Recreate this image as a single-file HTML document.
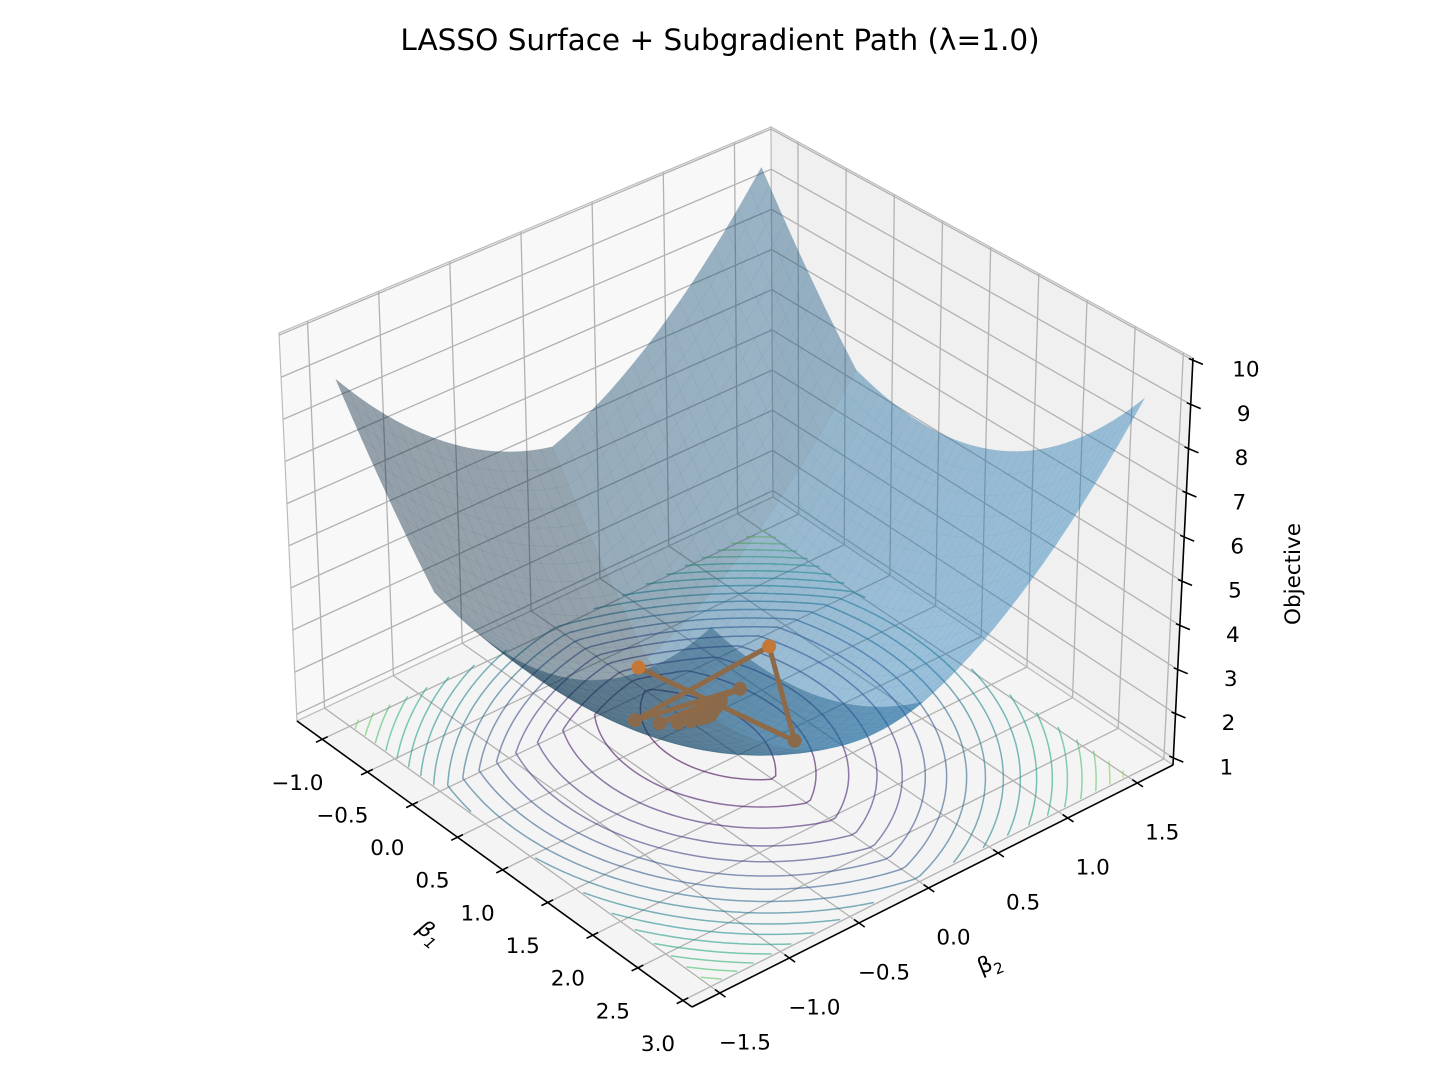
<!DOCTYPE html>
<html><head><meta charset="utf-8"><style>
html,body{margin:0;padding:0;background:#fff;}
svg{display:block;font-family:"DejaVu Sans","Liberation Sans",sans-serif;}
</style></head><body>
<svg id="chart" width="1440" height="1080" viewBox="0 0 1440 1080" xmlns="http://www.w3.org/2000/svg">
<rect width="1440" height="1080" fill="#ffffff"/>
<text x="720" y="50" text-anchor="middle" font-size="29.5" fill="#000">LASSO Surface + Subgradient Path (λ=1.0)</text>
<g id="panes"></g>
<g id="grid"></g>
<g id="contours"></g>
<g id="surface"></g>
<g id="path"></g>
<g id="axes"></g>
<text transform="translate(425,938) rotate(38)" text-anchor="middle" font-size="22" font-style="italic">β<tspan font-size="15" dy="6">1</tspan></text>
<text transform="translate(992,970) rotate(-22)" text-anchor="middle" font-size="22">β<tspan font-size="15" dy="6">2</tspan></text>
<text transform="translate(1300,574) rotate(-90)" text-anchor="middle" font-size="21.5">Objective</text>
</svg>
<script>
const xTicks=[-1,-0.5,0,0.5,1,1.5,2,2.5,3];
const xTickLabels=["−1.0","−0.5","0.0","0.5","1.0","1.5","2.0","2.5","3.0"];
const yTicks=[-1.5,-1,-0.5,0,0.5,1,1.5];
const yTickLabels=["−1.5","−1.0","−0.5","0.0","0.5","1.0","1.5"];
const zTicks=[1,2,3,4,5,6,7,8,9,10];
const zTickLabels=["1","2","3","4","5","6","7","8","9","10"];
const beta1Path=[0.06,1.53,0.64,0.71,0.70,0.72,0.66,0.72,0.67,0.71,0.68,0.70,0.69,0.70];
const beta2Path=[-0.10,0.06,0.46,-0.55,0.21,-0.38,0.10,-0.25,0.06,-0.15,0.03,-0.08,0.01,-0.03];
const quadCoef=[0.667,1.2,0,-1.933,0.25,1.627];
const lambdaVal=[1.0];
const surfXRange=[-1,3];
const surfYRange=[-1.5,1.5];

const NS="http://www.w3.org/2000/svg";
const X0=-1.28,X1=3.10,Y0=-1.70,Y1=1.757,Z0=0.84,Z1=10.05;
const C={b00:[297,721],b10:[692,1007],b11:[1173,765],b01:[773,497],
         t00:[279,333],t10:[692,582],t11:[1193,358],t01:[771,127]};
function bil(a,b,c,d,u,v){return [(1-u)*(1-v)*a[0]+u*(1-v)*b[0]+u*v*c[0]+(1-u)*v*d[0],
 (1-u)*(1-v)*a[1]+u*(1-v)*b[1]+u*v*c[1]+(1-u)*v*d[1]];}
function P(x,y,z){const u=(x-X0)/(X1-X0),v=(y-Y0)/(Y1-Y0),w=(z-Z0)/(Z1-Z0);
 const b=bil(C.b00,C.b10,C.b11,C.b01,u,v),t=bil(C.t00,C.t10,C.t11,C.t01,u,v);
 return [b[0]*(1-w)+t[0]*w,b[1]*(1-w)+t[1]*w];}
function depth(x,y,z){const u=(x-X0)/(X1-X0)-0.5,v=(y-Y0)/(Y1-Y0)-0.5,w=((z-Z0)/(Z1-Z0)-0.5)*0.75;
 return 0.433*u-0.75*v+0.5*w;}
function f(x,y){const c=quadCoef;return c[0]*x*x+c[1]*y*y+c[2]*x*y+c[3]*x+c[4]*y+c[5]+lambdaVal[0]*(Math.abs(x)+Math.abs(y));}
function pts(arr){return arr.map(p=>p[0].toFixed(1)+","+p[1].toFixed(1)).join(" ");}
function mk(tag,attrs,parent){const e=document.createElementNS(NS,tag);for(const k in attrs)e.setAttribute(k,attrs[k]);parent.appendChild(e);return e;}

const gP=document.getElementById('panes');
let e;
e=mk('polygon',{points:pts([P(X0,Y0,Z0),P(X0,Y1,Z0),P(X0,Y1,Z1),P(X0,Y0,Z1)]),fill:'#f8f8f8',stroke:'#bcbcbc','stroke-width':1.2},gP);


e=mk('polygon',{points:pts([P(X0,Y1,Z0),P(X1,Y1,Z0),P(X1,Y1,Z1),P(X0,Y1,Z1)]),fill:'#f0f0f0',stroke:'#bcbcbc','stroke-width':1.2},gP);


e=mk('polygon',{points:pts([P(X0,Y0,Z0),P(X1,Y0,Z0),P(X1,Y1,Z0),P(X0,Y1,Z0)]),fill:'#f4f4f4',stroke:'#bcbcbc','stroke-width':1.2},gP);



const gG=document.getElementById('grid');
function gl(a,b,name){const l=mk('line',{x1:a[0],y1:a[1],x2:b[0],y2:b[1],stroke:'#b2b2b2','stroke-width':1.3},gG);
 
 }
yTicks.forEach(t=>{gl(P(X0,t,Z0),P(X0,t,Z1),'grid-line-y');gl(P(X0,t,Z0),P(X1,t,Z0),'grid-line-y');});
xTicks.forEach(t=>{gl(P(t,Y1,Z0),P(t,Y1,Z1),'grid-line-x');gl(P(t,Y0,Z0),P(t,Y1,Z0),'grid-line-x');});
zTicks.forEach(t=>{gl(P(X0,Y0,t),P(X0,Y1,t),'grid-line-z');gl(P(X0,Y1,t),P(X1,Y1,t),'grid-line-z');});

const vir=[[68,1,84],[71,44,122],[59,81,139],[44,113,142],[33,144,141],[39,173,129],[92,200,99],[170,220,50],[253,231,37]];
function viridis(t){t=Math.max(0,Math.min(1,t))*8;const i=Math.min(7,Math.floor(t)),r=t-i;
 const a=vir[i],b=vir[i+1];return 'rgb('+a.map((v,k)=>Math.round(v+(b[k]-v)*r)).join(',')+')';}

const gC=document.getElementById('contours');
const NX=100,NY=75;
const gx=[],gy=[],gv=[];
for(let i=0;i<=NX;i++)gx.push(surfXRange[0]+(surfXRange[1]-surfXRange[0])*i/NX);
for(let j=0;j<=NY;j++)gy.push(surfYRange[0]+(surfYRange[1]-surfYRange[0])*j/NY);
let fmin=1e9,fmax=-1e9;
for(let i=0;i<=NX;i++){gv.push([]);for(let j=0;j<=NY;j++){const v=f(gx[i],gy[j]);gv[i].push(v);fmin=Math.min(fmin,v);fmax=Math.max(fmax,v);}}
const nLev=19;
const zc=Z0+0.05;
for(let L=0;L<nLev;L++){
 const lev=fmin+0.1+(fmax-fmin)*(L+0.5)/nLev;
 let d="";
 for(let i=0;i<NX;i++)for(let j=0;j<NY;j++){
  const x0=gx[i],x1=gx[i+1],y0=gy[j],y1=gy[j+1];
  const v=[gv[i][j],gv[i+1][j],gv[i+1][j+1],gv[i][j+1]];
  const q=[[x0,y0],[x1,y0],[x1,y1],[x0,y1]];
  const cr=[];
  for(let k=0;k<4;k++){const a=v[k],b=v[(k+1)%4];
   if((a<lev)!==(b<lev)){const t=(lev-a)/(b-a);const pa=q[k],pb=q[(k+1)%4];cr.push([pa[0]+(pb[0]-pa[0])*t,pa[1]+(pb[1]-pa[1])*t]);}}
  for(let k=0;k+1<cr.length;k+=2){const A=P(cr[k][0],cr[k][1],zc),B=P(cr[k+1][0],cr[k+1][1],zc);
   d+="M"+A[0].toFixed(1)+" "+A[1].toFixed(1)+"L"+B[0].toFixed(1)+" "+B[1].toFixed(1);}
 }
 const p=mk('path',{d:d,fill:'none',stroke:viridis(L/(nLev-1)*0.9),'stroke-width':1.5,'stroke-opacity':0.6,'stroke-linecap':'round'},gC);
 
 
}

const gS=document.getElementById('surface');
const SX=48,SY=36;const polys=[];
const Lt=[-0.667,-0.667,0.333];
for(let i=0;i<SX;i++)for(let j=0;j<SY;j++){
 const xa=surfXRange[0]+(surfXRange[1]-surfXRange[0])*i/SX,xb=surfXRange[0]+(surfXRange[1]-surfXRange[0])*(i+1)/SX;
 const ya=surfYRange[0]+(surfYRange[1]-surfYRange[0])*j/SY,yb=surfYRange[0]+(surfYRange[1]-surfYRange[0])*(j+1)/SY;
 const c=[[xa,ya],[xb,ya],[xb,yb],[xa,yb]].map(p=>[p[0],p[1],f(p[0],p[1])]);
 const a=[c[2][0]-c[0][0],c[2][1]-c[0][1],c[2][2]-c[0][2]],b=[c[3][0]-c[1][0],c[3][1]-c[1][1],c[3][2]-c[1][2]];
 let n=[a[1]*b[2]-a[2]*b[1],a[2]*b[0]-a[0]*b[2],a[0]*b[1]-a[1]*b[0]];
 const nl=Math.hypot(n[0],n[1],n[2]);n=n.map(t=>t/nl);
 const s=0.65+0.35*(n[0]*Lt[0]+n[1]*Lt[1]+n[2]*Lt[2]);
 const cx=(xa+xb)/2,cy=(ya+yb)/2,cz=(c[0][2]+c[1][2]+c[2][2]+c[3][2])/4;
 polys.push({d:depth(cx,cy,cz),p:c.map(q=>P(q[0],q[1],q[2])),s:s});
}
polys.sort((A,B)=>A.d-B.d);
polys.forEach(o=>{const col='rgb('+Math.round(31*o.s)+','+Math.round(119*o.s)+','+Math.round(180*o.s)+')';
 const pg=mk('polygon',{points:pts(o.p),fill:col,'fill-opacity':0.42,stroke:col,'stroke-opacity':0.06,'stroke-width':0.6},gS);
 
 });

const gPa=document.getElementById('path');
const pp=beta1Path.map((b,i)=>P(b,beta2Path[i],f(b,beta2Path[i])));
e=mk('polyline',{points:pts(pp),fill:'none',stroke:'#8e6a48','stroke-width':5,'stroke-linejoin':'round'},gPa);


pp.forEach(p=>{const c=mk('circle',{cx:p[0].toFixed(1),cy:p[1].toFixed(1),r:7,fill:(p[1]<670?'#c47838':'#8a6a4a')},gPa);
 
 });

const gA=document.getElementById('axes');
function al(a,b,name){const l=mk('line',{x1:a[0].toFixed(1),y1:a[1].toFixed(1),x2:b[0].toFixed(1),y2:b[1].toFixed(1),stroke:'#000','stroke-width':1.6},gA);
 
 }
function tx(x,y,s,name){const t=mk('text',{x:x.toFixed(1),y:y.toFixed(1),'text-anchor':'middle','dominant-baseline':'central','font-size':21.5,fill:'#000'},gA);
 t.textContent=s;
 
 }
al(P(X0,Y0,Z0),P(X1,Y0,Z0),'x-axis-line');
al(P(X1,Y0,Z0),P(X1,Y1,Z0),'y-axis-line');
al(P(X1,Y1,Z0),P(X1,Y1,Z1),'z-axis-line');
function unit(a,b){const dx=b[0]-a[0],dy=b[1]-a[1],l=Math.hypot(dx,dy);return [dx/l,dy/l];}
xTicks.forEach((t,i)=>{const p=P(t,Y0,Z0),u=unit(P(t,Y0,Z0),P(t,Y0-1,Z0));
 al([p[0]-u[0]*6,p[1]-u[1]*6],[p[0]+u[0]*7,p[1]+u[1]*7],'x-tick');
 tx(p[0]-25,p[1]+44,xTickLabels[i],'x-tick-label');});
yTicks.forEach((t,i)=>{const p=P(X1,t,Z0),u=unit(P(X1,t,Z0),P(X1+1,t,Z0));
 al([p[0]-u[0]*6,p[1]-u[1]*6],[p[0]+u[0]*7,p[1]+u[1]*7],'y-tick');
 tx(p[0]+25,p[1]+50,yTickLabels[i],'y-tick-label');});
zTicks.forEach((t,i)=>{const p=P(X1,Y1,t);
 al([p[0]-4,p[1]-1.7],[p[0]+10,p[1]+4.2],'z-tick');
 tx(p[0]+53,p[1]+10,zTickLabels[i],'z-tick-label');});
</script>
</body></html>
